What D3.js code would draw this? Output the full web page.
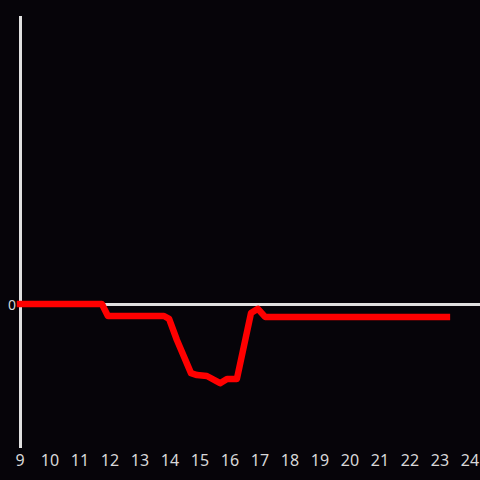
<!DOCTYPE html>
<html>
<head>
<meta charset="utf-8">
<script src="https://cdn.jsdelivr.net/npm/d3@7"></script>
<style>
  html, body { margin: 0; padding: 0; background: #060409; }
  svg { display: block; }
  .tick-text { fill: #d8d8d8; font-family: 'Noto Sans', 'Liberation Sans', sans-serif; }
</style>
</head>
<body>
<div id="chart"></div>
<script>
// hours of the day (decimal) and the values at each point
const hours = [9.0, 11.73, 11.93, 13.8, 13.97, 14.23, 14.7, 14.9, 15.23, 15.67, 15.9, 16.23, 16.7, 16.93, 17.17, 23.23];
const values = [0, 0, -0.25, -0.25, -0.31, -0.75, -1.44, -1.48, -1.5, -1.65, -1.56, -1.56, -0.19, -0.1, -0.27, -0.27];
const xTicks = d3.range(9, 25);
const yTicks = [0];

const width = 480, height = 480;
const margin = {top: 16, right: 10, bottom: 32, left: 20};

const svg = d3.select('#chart').append('svg')
  .attr('width', width)
  .attr('height', height);

svg.append('rect')
  .attr('width', width)
  .attr('height', height)
  .attr('fill', '#060409');

const x = d3.scaleLinear()
  .domain([9, 24])
  .range([margin.left, width - margin.right]);

const y = d3.scaleLinear()
  .domain([-3, 6])
  .range([height - margin.bottom, margin.top]);

// y axis line
svg.append('line')
  .attr('x1', x(9) + 0.5)
  .attr('x2', x(9) + 0.5)
  .attr('y1', y(6))
  .attr('y2', y(-3))
  .attr('stroke', '#e0e0e0')
  .attr('stroke-width', 3);

// zero line
svg.selectAll('line.zero')
  .data(yTicks).enter()
  .append('line')
  .attr('class', 'zero')
  .attr('x1', x(9))
  .attr('x2', width)
  .attr('y1', (d) => y(d) + 0.5)
  .attr('y2', (d) => y(d) + 0.5)
  .attr('stroke', '#e0e0e0')
  .attr('stroke-width', 3);

svg.selectAll('text.ylab')
  .data(yTicks).enter()
  .append('text')
  .attr('class', 'tick-text')
  .attr('font-size', 14)
  .attr('x', x(9) - 4)
  .attr('y', (d) => y(d) + 1)
  .attr('dy', '0.35em')
  .attr('text-anchor', 'end')
  .text((d) => d);

// x tick labels
svg.selectAll('text.xlab')
  .data(xTicks).enter()
  .append('text')
  .attr('class', 'tick-text')
  .attr('font-size', 16)
  .attr('x', (d) => x(d))
  .attr('y', 466)
  .attr('text-anchor', 'middle')
  .text((d) => d);

const line = d3.line()
  .x((d, i) => x(hours[i]))
  .y((d) => y(d));

svg.append('path')
  .datum(values)
  .attr('d', line)
  .attr('fill', 'none')
  .attr('stroke', '#ff0000')
  .attr('stroke-width', 6.5)
  .attr('stroke-linecap', 'square')
  .attr('stroke-linejoin', 'round');
</script>
</body>
</html>
